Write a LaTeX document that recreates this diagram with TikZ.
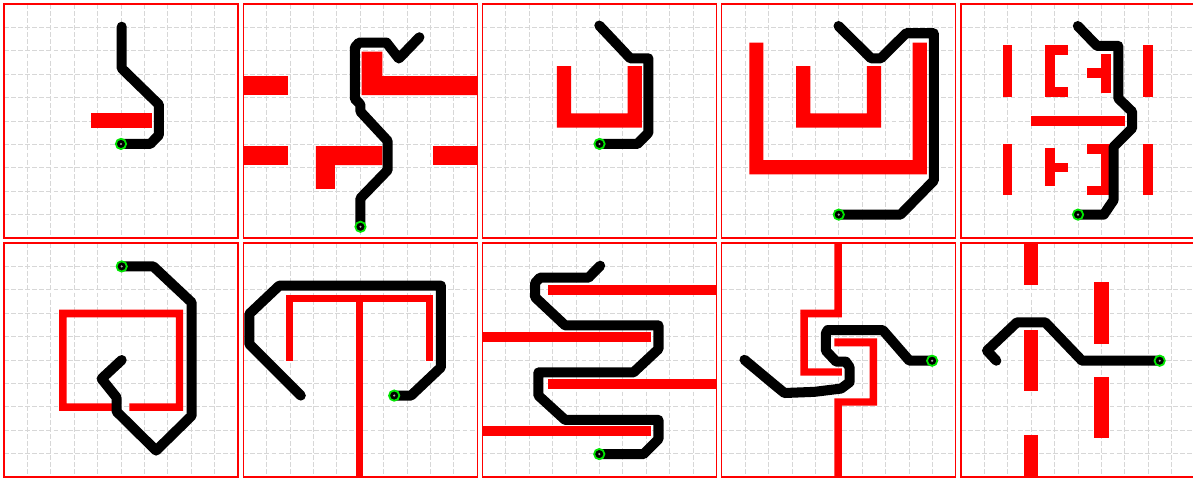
\documentclass[tikz,border=0pt]{standalone}
\definecolor{goalgreen}{RGB}{0,230,0}
\definecolor{gridgray}{RGB}{215,215,215}
\tikzset{
  obst/.style={fill=red,draw=none},
  trail/.style={draw=black,line width=6.1pt,line cap=round,line join=round},
  gridln/.style={draw=gridgray,line width=0.55pt,dash pattern=on 3pt off 1.3pt},
  panelframe/.style={draw=red,line width=0.65pt},
  goalring/.style={draw=goalgreen,fill=black,line width=1.1pt},
  goaldot/.style={fill=gray!70,draw=none}
}
\newcommand{\panelbg}{%
  \fill[white] (0,0) rectangle (10,10);
  \foreach \gi in {1,...,9} {
    \draw[gridln] (\gi,0) -- (\gi,10);
    \draw[gridln] (0,\gi) -- (10,\gi);
  }
  \draw[panelframe] (0,0) rectangle (10,10);
}
\newcommand{\goalmark}[1]{%
  \draw[goalring] #1 circle (0.22);
  \fill[goaldot] #1 circle (0.05);
}
\begin{document}
\begin{tikzpicture}[x=0.5cm,y=-0.5cm]
\useasboundingbox (0,0) rectangle (50.983,20.470);
\clip (0,0) rectangle (50.983,20.470);
\fill[white] (0,0) rectangle (50.983,20.470);

% ---------- Panel 1 ----------
\begin{scope}[shift={(0.171,0.171)}]
  \panelbg
  \fill[obst] (3.7,4.67) rectangle (6.34,5.28);
  \draw[trail] (5.03,0.97) -- (5.03,2.75) -- (6.62,4.3) -- (6.62,5.6) -- (6.25,5.98) -- (5.0,5.98);
  \goalmark{(5.0,5.98)}
\end{scope}

% ---------- Panel 2 ----------
\begin{scope}[shift={(10.395,0.171)}]
  \panelbg
  \fill[obst] (0,3.08) rectangle (1.92,3.89);
  \fill[obst] (0,6.07) rectangle (1.92,6.88);
  \fill[obst] (8.12,6.07) rectangle (10,6.88);
  \fill[obst] (3.1,6.07) -- (5.95,6.07) -- (5.95,6.88) -- (3.92,6.88) -- (3.92,7.9) -- (3.1,7.9) -- cycle;
  \fill[obst] (5.06,2.04) -- (5.95,2.04) -- (5.95,3.08) -- (10,3.08) -- (10,3.89) -- (5.06,3.89) -- cycle;
  \draw[trail] (7.53,1.42) -- (6.65,2.33) -- (6.12,1.65) -- (4.95,1.65) -- (4.77,1.85) -- (4.77,4.05) -- (5.01,4.3) -- (5.01,4.6) -- (6.17,5.85) -- (6.17,7.1) -- (5.01,8.3) -- (5.01,9.52);
  \goalmark{(5.01,9.52)}
\end{scope}

% ---------- Panel 3 ----------
\begin{scope}[shift={(20.620,0.171)}]
  \panelbg
  \fill[obst] (3.18,2.65) -- (3.79,2.65) -- (3.79,4.67) -- (6.2,4.67) -- (6.2,2.65) -- (6.81,2.65) -- (6.81,5.28) -- (3.18,5.28) -- cycle;
  \draw[trail] (4.99,0.92) -- (6.31,2.32) -- (7.09,2.32) -- (7.09,5.5) -- (6.62,5.98) -- (5.0,5.98);
  \goalmark{(5.0,5.98)}
\end{scope}

% ---------- Panel 4 ----------
\begin{scope}[shift={(30.844,0.171)}]
  \panelbg
  \fill[obst] (1.18,1.65) -- (1.78,1.65) -- (1.78,6.67) -- (8.16,6.67) -- (8.16,1.65) -- (8.77,1.65) -- (8.77,7.28) -- (1.18,7.28) -- cycle;
  \fill[obst] (3.18,2.65) -- (3.79,2.65) -- (3.79,4.67) -- (6.2,4.67) -- (6.2,2.65) -- (6.81,2.65) -- (6.81,5.28) -- (3.18,5.28) -- cycle;
  \draw[trail] (4.99,0.94) -- (6.38,2.32) -- (6.8,2.32) -- (7.88,1.25) -- (9.06,1.25) -- (9.06,7.55) -- (7.64,9.0) -- (5.0,9.0);
  \goalmark{(5.0,9.0)}
\end{scope}

% ---------- Panel 5 ----------
\begin{scope}[shift={(41.069,0.171)}]
  \panelbg
  \fill[obst] (1.78,1.75) rectangle (2.18,3.96);
  \fill[obst] (1.78,5.98) rectangle (2.18,8.16);
  \fill[obst] (7.78,1.75) rectangle (8.19,3.96);
  \fill[obst] (7.78,5.98) rectangle (8.19,8.16);
  \fill[obst] (3.6,1.75) rectangle (4.0,3.96);
  \fill[obst] (4.0,1.75) rectangle (4.57,2.18);
  \fill[obst] (4.0,3.56) rectangle (4.57,3.96);
  \fill[obst] (6.0,2.14) rectangle (6.41,3.79);
  \fill[obst] (5.38,2.75) rectangle (6.0,3.18);
  \fill[obst] (2.99,4.77) rectangle (6.99,5.2);
  \fill[obst] (3.6,6.14) rectangle (4.0,7.78);
  \fill[obst] (4.0,6.78) rectangle (4.57,7.19);
  \fill[obst] (6.0,5.98) rectangle (6.41,8.16);
  \fill[obst] (5.38,5.98) rectangle (6.0,6.41);
  \fill[obst] (5.38,7.76) rectangle (6.0,8.16);
  \draw[trail] (4.99,0.94) -- (5.81,1.79) -- (6.72,1.79) -- (6.72,4.03) -- (7.31,4.6) -- (7.31,5.31) -- (6.52,6.1) -- (6.52,8.38) -- (6.1,9.0) -- (5.0,9.0);
  \goalmark{(5.0,9.0)}
\end{scope}

% ---------- Panel 6 ----------
\begin{scope}[shift={(0.171,10.385)}]
  \panelbg
  \fill[obst] (4.64,7.17) -- (2.36,7.17) -- (2.36,2.85) -- (7.66,2.85) -- (7.66,7.17) -- (5.36,7.17) -- (5.36,6.85) -- (7.35,6.85) -- (7.35,3.18) -- (2.68,3.18) -- (2.68,6.85) -- (4.64,6.85) -- cycle;
  \draw[trail] (5.03,1.0) -- (6.38,1.0) -- (8.02,2.54) -- (8.02,7.38) -- (6.5,8.87) -- (4.81,7.2) -- (4.81,6.6) -- (4.17,5.8) -- (5.03,5.0);
  \goalmark{(5.03,1.0)}
\end{scope}

% ---------- Panel 7 ----------
\begin{scope}[shift={(10.395,10.385)}]
  \panelbg
  \fill[obst] (1.82,2.21) rectangle (8.12,2.54);
  \fill[obst] (1.82,2.54) rectangle (2.11,5.03);
  \fill[obst] (7.83,2.54) rectangle (8.12,5.03);
  \fill[obst] (4.81,2.54) rectangle (5.13,10);
  \draw[trail] (6.45,6.52) -- (7.17,6.52) -- (8.45,5.31) -- (8.45,1.82) -- (1.54,1.82) -- (0.26,3.03) -- (0.26,4.32) -- (2.46,6.52);
  \goalmark{(6.45,6.52)}
\end{scope}

% ---------- Panel 8 ----------
\begin{scope}[shift={(20.620,10.385)}]
  \panelbg
  \fill[obst] (2.78,1.79) rectangle (10,2.21);
  \fill[obst] (0,3.82) rectangle (7.19,4.22);
  \fill[obst] (2.78,5.81) rectangle (10,6.24);
  \fill[obst] (0,7.81) rectangle (7.19,8.23);
  \draw[trail] (5.03,0.97) -- (4.53,1.48) -- (2.46,1.48) -- (2.25,1.7) -- (2.25,2.32) -- (3.53,3.52) -- (7.52,3.52) -- (7.52,4.53) -- (6.45,5.53) -- (2.39,5.53) -- (2.39,6.52) -- (3.53,7.56) -- (7.52,7.56) -- (7.52,8.38) -- (6.88,9.02) -- (4.99,9.02);
  \goalmark{(4.99,9.02)}
\end{scope}

% ---------- Panel 9 ----------
\begin{scope}[shift={(30.844,10.385)}]
  \panelbg
  \fill[obst] (4.81,0) -- (5.13,0) -- (5.13,3.18) -- (3.68,3.18) -- (3.68,5.36) -- (5.13,5.36) -- (5.13,5.67) -- (3.36,5.67) -- (3.36,2.85) -- (4.81,2.85) -- cycle;
  \fill[obst] (4.81,4.07) -- (6.64,4.07) -- (6.64,6.95) -- (5.13,6.95) -- (5.13,10) -- (4.81,10) -- (4.81,6.64) -- (6.32,6.64) -- (6.32,4.42) -- (4.81,4.42) -- cycle;
  \draw[trail] (8.99,5.03) -- (8.02,5.03) -- (6.88,3.72) -- (4.53,3.72) -- (4.45,3.85) -- (4.45,4.6) -- (4.89,5.07) -- (5.3,5.07) -- (5.46,5.3) -- (5.46,5.95) -- (5.1,6.22) -- (3.96,6.36) -- (2.68,6.41) -- (2.3,6.1) -- (0.97,4.99);
  \goalmark{(8.99,5.03)}
\end{scope}

% ---------- Panel 10 ----------
\begin{scope}[shift={(41.069,10.385)}]
  \panelbg
  \fill[obst] (2.71,0) rectangle (3.29,1.79);
  \fill[obst] (2.71,3.72) rectangle (3.29,6.31);
  \fill[obst] (2.71,8.2) rectangle (3.29,10);
  \fill[obst] (5.7,1.68) rectangle (6.31,4.32);
  \fill[obst] (5.7,5.71) rectangle (6.31,8.35);
  \draw[trail] (8.49,5.03) -- (5.17,5.03) -- (3.6,3.39) -- (2.39,3.39) -- (1.11,4.6) -- (1.51,5.03);
  \goalmark{(8.49,5.03)}
\end{scope}
\end{tikzpicture}
\end{document}
